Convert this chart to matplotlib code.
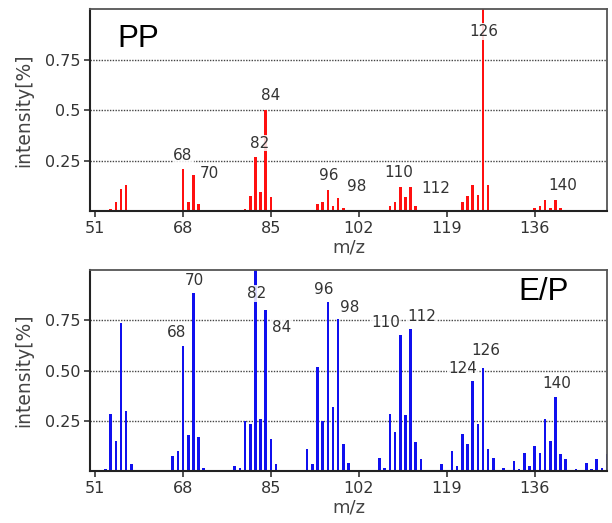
import matplotlib
matplotlib.use("Agg")
import matplotlib.pyplot as plt

# PP spectrum
pp_mz = [54, 55, 56, 57, 58,
         67, 68, 69, 70, 71, 72,
         80, 81, 82, 83, 84, 85,
         94, 95, 96, 97, 98, 99,
         108, 109, 110, 111, 112, 113, 114,
         122, 123, 124, 125, 126, 127, 128,
         136, 137, 138, 139, 140, 141]
pp_int = [0.008, 0.045, 0.108, 0.127, 0.006,
          0.006, 0.21, 0.045, 0.178, 0.035, 0.006,
          0.012, 0.075, 0.268, 0.095, 0.50, 0.067,
          0.033, 0.042, 0.103, 0.023, 0.065, 0.013,
          0.025, 0.043, 0.12, 0.068, 0.12, 0.025, 0.007,
          0.045, 0.075, 0.127, 0.077, 1.05, 0.127, 0.007,
          0.017, 0.025, 0.052, 0.017, 0.053, 0.017]
pp_labels = ["68", "70", "82", "84", "96", "98", "110", "112", "126", "140"]
pp_label_x = [68.0, 73.1, 82.8, 84.9, 96.1, 101.5, 109.8, 116.9, 126.2, 141.5]
pp_label_y = [0.277, 0.187, 0.336, 0.57, 0.174, 0.123, 0.19, 0.11, 0.89, 0.124]

# E/P spectrum
ep_mz = [52, 53, 54, 55, 56, 57, 58,
         66, 67, 68, 69, 70, 71, 72,
         78, 79, 80, 81, 82, 83, 84, 85, 86,
         92, 93, 94, 95, 96, 97, 98, 99, 100,
         104, 106, 107, 108, 109, 110, 111, 112, 113, 114,
         118, 120, 121, 122, 123, 124, 125, 126, 127, 128,
         130, 132, 133, 134, 135, 136, 137, 138, 139, 140, 141, 142,
         144, 146, 147, 148, 149, 150]
ep_int = [0.005, 0.012, 0.285, 0.15, 0.738, 0.30, 0.033,
          0.075, 0.10, 0.62, 0.178, 0.885, 0.168, 0.017,
          0.025, 0.017, 0.247, 0.235, 1.05, 0.26, 0.80, 0.16, 0.033,
          0.108, 0.033, 0.52, 0.25, 0.84, 0.318, 0.755, 0.133, 0.042,
          0.005, 0.067, 0.017, 0.285, 0.193, 0.675, 0.277, 0.705, 0.142, 0.058,
          0.033, 0.10, 0.025, 0.185, 0.133, 0.447, 0.233, 0.513, 0.108, 0.067,
          0.017, 0.05, 0.008, 0.092, 0.025, 0.125, 0.092, 0.26, 0.15, 0.37, 0.083, 0.058,
          0.008, 0.042, 0.008, 0.058, 0.017, 0.083]
ep_labels = ["68", "70", "82", "84", "96", "98", "110", "112", "124", "126", "140"]
ep_label_x = [66.8, 70.1, 82.2, 87.0, 95.2, 100.3, 107.1, 114.2, 122.0, 126.5, 140.2]
ep_label_y = [0.688, 0.947, 0.884, 0.715, 0.904, 0.814, 0.738, 0.768, 0.511, 0.60, 0.436]

xticks = [51, 68, 85, 102, 119, 136]

fig = plt.figure(figsize=(6.12, 5.23), dpi=100)
ax1 = fig.add_axes([0.147, 0.5966, 0.845, 0.386])
ax2 = fig.add_axes([0.147, 0.0994, 0.845, 0.384])


def draw_panel(ax, mz, inten, color, labels, lx, ly, yticklabels, title, tx, ty):
    ax.bar(mz, inten, width=0.5, color=color, zorder=2)
    ax.set_xlim(50, 150)
    ax.set_ylim(0, 1.0)
    ax.set_xticks(xticks)
    ax.set_yticks([0.25, 0.5, 0.75])
    ax.set_yticklabels(yticklabels)
    ax.yaxis.grid(True, linestyle=(0, (1, 1)), color="#444444", linewidth=1.0, zorder=1)
    ax.set_axisbelow(True)
    ax.tick_params(axis="both", labelsize=11.5, colors="#333333", length=4, width=1.2,
                   direction="out", pad=3)
    for side in ["left", "bottom"]:
        ax.spines[side].set_color("#222222")
        ax.spines[side].set_linewidth(1.5)
    for side in ["top", "right"]:
        ax.spines[side].set_color("#555555")
        ax.spines[side].set_linewidth(1.3)
    ax.set_xlabel("m/z", fontsize=13, color="#444444", labelpad=2)
    ax.set_ylabel("intensity[%]", fontsize=13.5, color="#444444", labelpad=8)
    for t, x, y in zip(labels, lx, ly):
        ax.text(x, y, t, ha="center", va="center", fontsize=11, color="#333333",
                zorder=3, bbox=dict(facecolor="white", edgecolor="none", pad=0.5, alpha=0.85))
    ax.text(tx, ty, title, ha="center", va="center", fontsize=22.5, color="black",
            family="Liberation Sans")


draw_panel(ax1, pp_mz, pp_int, "#ff1010", pp_labels, pp_label_x, pp_label_y,
           ["0.25", "0.5", "0.75"], "PP", 59.3, 0.853)
draw_panel(ax2, ep_mz, ep_int, "#1010ee", ep_labels, ep_label_x, ep_label_y,
           ["0.25", "0.50", "0.75"], "E/P", 137.8, 0.89)

fig.savefig("out.png", dpi=100)
